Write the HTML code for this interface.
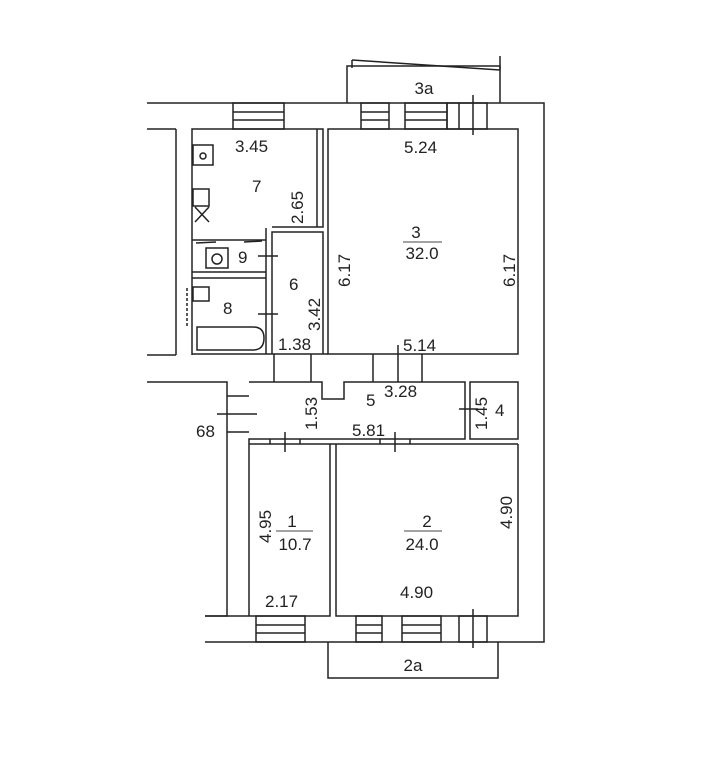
<!DOCTYPE html>
<html><head><meta charset="utf-8"><style>
html,body{margin:0;padding:0;background:#fff;}
svg{display:block;}
text{font-family:"Liberation Sans",sans-serif;font-size:17px;fill:#222;}
</style></head><body>
<svg width="725" height="768" viewBox="0 0 725 768" xmlns="http://www.w3.org/2000/svg">
<g stroke="#222" stroke-width="1.5" fill="none">
<polyline points="147,103 544,103 544,642 205,642"/>
<line x1="147" y1="129" x2="176" y2="129"/>
<line x1="176" y1="129" x2="176" y2="355"/>
<line x1="147" y1="355" x2="176" y2="355"/>
<polyline points="347,103 347,66 500,66 500,103"/>
<line x1="352" y1="60" x2="500" y2="70"/>
<line x1="352" y1="60" x2="352" y2="68"/>
<line x1="500" y1="56" x2="500" y2="70"/>
<rect x="233" y="103" width="51" height="26"/>
<line x1="233" y1="112" x2="284" y2="112"/><line x1="233" y1="120" x2="284" y2="120"/>
<rect x="361" y="103" width="28" height="26"/>
<line x1="361" y1="112" x2="389" y2="112"/><line x1="361" y1="120" x2="389" y2="120"/>
<rect x="405" y="103" width="42" height="26"/>
<line x1="405" y1="112" x2="447" y2="112"/><line x1="405" y1="120" x2="447" y2="120"/>
<rect x="447" y="103" width="40" height="26"/>
<line x1="459" y1="103" x2="459" y2="129"/>
<line x1="473" y1="95" x2="473" y2="135"/>
<polyline points="192,355 192,129 323,129 323,227 272,227"/>
<line x1="317" y1="129" x2="317" y2="227"/>
<rect x="328" y="129" width="190" height="225"/>
<polyline points="272,354 272,232 323,232 323,354"/>
<line x1="266" y1="228" x2="266" y2="354"/>
<line x1="192" y1="354" x2="328" y2="354"/>
<line x1="192" y1="240" x2="266" y2="240"/>
<line x1="192" y1="272" x2="266" y2="272"/>
<line x1="192" y1="278" x2="266" y2="278"/>
<path d="M196,243 L216,242 M244,242 L262,241"/>
<rect x="193" y="145" width="20" height="20"/>
<circle cx="203" cy="156" r="3"/>
<rect x="193" y="189" width="16" height="17"/>
<path d="M195,207 L209,222 M209,207 L195,222"/>
<rect x="206" y="248" width="22" height="20"/>
<circle cx="217" cy="259" r="5"/>
<rect x="193" y="287" width="16" height="14"/>
<path d="M187,288 L187,326" stroke-dasharray="3,2"/>
<path d="M197,350 L197,327 L253,327 Q264,327 264,338 Q264,350 253,350 Z"/>
<line x1="258" y1="256" x2="278" y2="256"/>
<line x1="258" y1="314" x2="278" y2="314"/>
<line x1="274" y1="354" x2="274" y2="382"/><line x1="311" y1="354" x2="311" y2="382"/>
<line x1="373" y1="354" x2="373" y2="382"/><line x1="422" y1="354" x2="422" y2="382"/>
<line x1="398" y1="345" x2="398" y2="382"/>
<polyline points="147,382 227,382 227,616 205,616"/>
<line x1="227" y1="396" x2="249" y2="396"/>
<line x1="227" y1="432" x2="249" y2="432"/>
<line x1="217" y1="414" x2="257" y2="414"/>
<polyline points="249,382 322,382 322,399 344,399 344,382 465,382 465,439 249,439 249,616"/>
<line x1="249" y1="444" x2="518" y2="444"/>
<rect x="470" y="382" width="48" height="57"/>
<line x1="459" y1="409" x2="478" y2="409"/>
<line x1="270" y1="439" x2="270" y2="444"/><line x1="300" y1="439" x2="300" y2="444"/>
<line x1="285" y1="432" x2="285" y2="452"/>
<line x1="380" y1="439" x2="380" y2="444"/><line x1="410" y1="439" x2="410" y2="444"/>
<line x1="395" y1="432" x2="395" y2="452"/>
<polyline points="249,616 330,616 330,444"/>
<polyline points="336,444 336,616 518,616 518,444"/>
<line x1="205" y1="616" x2="249" y2="616"/>
<rect x="256" y="616" width="49" height="26"/>
<line x1="256" y1="625" x2="305" y2="625"/><line x1="256" y1="633" x2="305" y2="633"/>
<rect x="356" y="616" width="26" height="26"/>
<line x1="356" y1="625" x2="382" y2="625"/><line x1="356" y1="633" x2="382" y2="633"/>
<rect x="402" y="616" width="39" height="26"/>
<line x1="402" y1="625" x2="441" y2="625"/><line x1="402" y1="633" x2="441" y2="633"/>
<rect x="459" y="616" width="28" height="26"/>
<line x1="473" y1="609" x2="473" y2="648"/>
<polyline points="328,642 328,678 498,678 498,642"/>
</g>
<text x="235" y="152">3.45</text>
<text x="252" y="192" font-size="19">7</text>
<text x="298" y="207" transform="rotate(-90 298 207) translate(-17,5)">2.65</text>
<text x="404" y="153">5.24</text>
<text x="345" y="270" transform="rotate(-90 345 270) translate(-17,5)">6.17</text>
<text x="510" y="270" transform="rotate(-90 510 270) translate(-17,5)">6.17</text>
<text x="416" y="238" text-anchor="middle" font-size="18">3</text>
<line x1="403" y1="242" x2="442" y2="242" stroke="#444"/>
<text x="422" y="259" text-anchor="middle" font-size="19">32.0</text>
<text x="238" y="263" font-size="19">9</text>
<text x="289" y="290" font-size="19">6</text>
<text x="315" y="314" transform="rotate(-90 315 314) translate(-17,5)">3.42</text>
<text x="223" y="314" font-size="19">8</text>
<text x="278" y="350">1.38</text>
<text x="403" y="351">5.14</text>
<text x="366" y="406" font-size="20">5</text>
<text x="384" y="397">3.28</text>
<text x="312" y="413" transform="rotate(-90 312 413) translate(-17,5)">1.53</text>
<text x="352" y="436">5.81</text>
<text x="482" y="413" transform="rotate(-90 482 413) translate(-17,5)">1.45</text>
<text x="495" y="416" font-size="19">4</text>
<text x="196" y="437" font-size="18">68</text>
<text x="266" y="526" transform="rotate(-90 266 526) translate(-17,5)">4.95</text>
<text x="292" y="527" text-anchor="middle" font-size="18">1</text>
<line x1="276" y1="531" x2="313" y2="531" stroke="#444"/>
<text x="295" y="550" text-anchor="middle" font-size="18">10.7</text>
<text x="427" y="527" text-anchor="middle" font-size="18">2</text>
<line x1="404" y1="531" x2="442" y2="531" stroke="#444"/>
<text x="422" y="550" text-anchor="middle" font-size="19">24.0</text>
<text x="507" y="512" transform="rotate(-90 507 512) translate(-17,5)">4.90</text>
<text x="265" y="607">2.17</text>
<text x="400" y="598">4.90</text>
<text x="413" y="671" text-anchor="middle" font-size="18">2a</text>
<text x="424" y="94" text-anchor="middle" font-size="18">3a</text>
</svg>
</body></html>
